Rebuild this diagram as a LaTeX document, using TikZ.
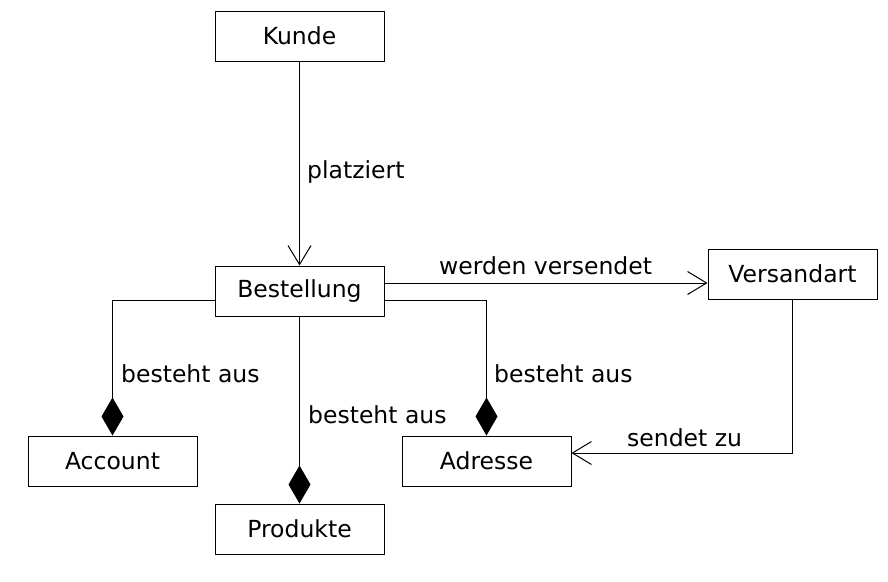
\documentclass[tikz,border=0pt]{standalone}
\usepackage{fontspec}
\setmainfont{DejaVu Sans}
\usetikzlibrary{arrows.meta}
\begin{document}
\begin{tikzpicture}[x=1pt,y=-1pt,
  font=\fontsize{23.5}{28}\selectfont,
  cls/.style={draw, line width=1pt, minimum width=169pt, minimum height=50pt, inner sep=0pt},
  lbl/.style={anchor=base west, inner sep=0pt},
  conn/.style={line width=1pt},
  openarrow/.style={-{Straight Barb[length=19pt,width=23pt]}},
  comp/.style={-{Diamond[length=38pt,width=22pt]}}]
\useasboundingbox (0,0) rectangle (888,581);
\fill[white] (0,0) rectangle (888,581);

\node[cls] (kunde) at (299.5,36)  {Kunde};
\node[cls] (best)  at (299.5,291) {Bestellung};
\node[cls] (vers)  at (792.5,274) {Versandart};
\node[cls] (acc)   at (112.5,461) {Account};
\node[cls] (prod)  at (299.5,529) {Produkte};
\node[cls] (adr)   at (486.5,461) {Adresse};

\draw[conn,openarrow] (kunde) -- (best);
\draw[conn,openarrow] ([yshift=8pt]best.east) -- ([yshift=8pt]best.east -| vers.west);
\draw[conn,comp] ([yshift=-9pt]best.west) -| (acc.north);
\draw[conn,comp] ([yshift=-9pt]best.east) -| (adr.north);
\draw[conn,comp] (best) -- (prod);
\draw[conn,openarrow] (vers.south) |- ([yshift=8pt]adr.east);

\node[lbl] (l1) at (307,178) {platziert};
\node[lbl] (l2) at (439,274) {werden versendet};
\node[lbl] (l3) at (121,382) {besteht aus};
\node[lbl] (l4) at (308,423) {besteht aus};
\node[lbl] (l5) at (494,382) {besteht aus};
\node[lbl] (l6) at (627,446) {sendet zu};
\end{tikzpicture}
\end{document}
